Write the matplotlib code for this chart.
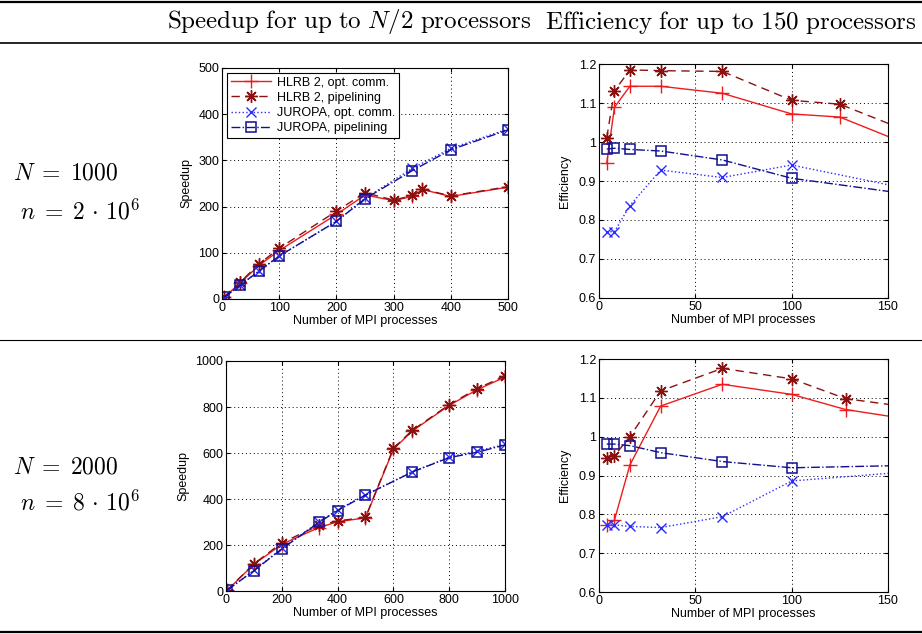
import numpy as np
import matplotlib
matplotlib.use("Agg")
import matplotlib.pyplot as plt
from matplotlib.lines import Line2D

plt.rcParams['font.family'] = ['Liberation Sans', 'DejaVu Sans']
plt.rcParams['mathtext.fontset'] = 'cm'

# ---- N = 1000 : speedup ----
s1_x_hlrb = [4, 32, 64, 100, 200, 250, 300, 333, 350, 400, 500]
s1_hlrb_opt = [4, 35, 72, 105, 183, 225, 213, 222, 237, 222, 242]
s1_hlrb_pipe = [5, 37, 75, 110, 190, 230, 214, 224, 238, 223, 243]
s1_x_jur = [4, 32, 64, 100, 200, 250, 333, 400, 500]
s1_jur_opt = [3, 30, 60, 93, 168, 218, 283, 326, 368]
s1_jur_pipe = [4, 30, 60, 93, 168, 217, 278, 323, 366]

# ---- N = 1000 : efficiency ----
e1_x_hlrb = [4, 8, 16, 32, 64, 100, 125, 200]
e1_hlrb_opt = [0.945, 1.089, 1.143, 1.143, 1.125, 1.072, 1.064, 0.915]
e1_hlrb_pipe = [1.011, 1.131, 1.185, 1.183, 1.181, 1.107, 1.097, 0.95]
e1_x_jur = [4, 8, 16, 32, 64, 100, 200]
e1_jur_opt = [0.77, 0.77, 0.837, 0.928, 0.909, 0.941, 0.84]
e1_jur_pipe = [0.982, 0.984, 0.981, 0.977, 0.954, 0.907, 0.84]

# ---- N = 2000 : speedup ----
s2_x_hlrb = [4, 100, 200, 333, 400, 500, 600, 667, 800, 900, 1000]
s2_hlrb_opt = [3, 116, 203, 276, 301, 318, 616, 695, 807, 875, 930]
s2_hlrb_pipe = [4, 118, 210, 285, 305, 320, 620, 698, 810, 880, 935]
s2_x_jur = [4, 100, 200, 333, 400, 500, 667, 800, 900, 1000]
s2_jur_opt = [3, 90, 185, 300, 353, 418, 518, 582, 609, 637]
s2_jur_pipe = [4, 88, 183, 298, 350, 417, 517, 580, 603, 635]

# ---- N = 2000 : efficiency ----
e2_x_hlrb = [4, 8, 16, 32, 64, 100, 128, 200]
e2_hlrb_opt = [0.773, 0.785, 0.927, 1.079, 1.135, 1.109, 1.070, 1.015]
e2_hlrb_pipe = [0.946, 0.951, 1.0, 1.118, 1.176, 1.149, 1.098, 1.05]
e2_x_jur = [4, 8, 16, 32, 64, 100, 200]
e2_jur_opt = [0.773, 0.773, 0.769, 0.766, 0.794, 0.886, 0.925]
e2_jur_pipe = [0.981, 0.981, 0.977, 0.959, 0.936, 0.920, 0.93]

labels = ['HLRB 2, opt. comm.', 'HLRB 2, pipelining',
          'JUROPA, opt. comm.', 'JUROPA, pipelining']
styles = [dict(color='#ee1c1c', ls='-', marker='+', ms=10, mew=1.0, lw=1.0),
          dict(color='#8b1111', ls=(0, (6, 4)), marker=(8, 2, 0), ms=9,
               mew=1.0, lw=1.0),
          dict(color='#2b2bff', ls=':', marker='x', ms=6.5, mew=1.0, lw=1.0),
          dict(color='#101090', ls='-.', marker='s', ms=7.5, mew=1.1, lw=1.0,
               mfc='none')]


def panel(rect, xh, h1, h2, xj, j1, j2, xlim, ylim, xt, yt, ylab, ytl=None,
          legend=False, lpad=4):
    ax = fig.add_axes(rect)
    ax.plot(xh, h1, label=labels[0], **styles[0])
    ax.plot(xh, h2, label=labels[1], **styles[1])
    ax.plot(xj, j1, label=labels[2], **styles[2])
    ax.plot(xj, j2, label=labels[3], **styles[3])
    ax.set_xlim(xlim)
    ax.set_ylim(ylim)
    ax.set_xticks(xt)
    ax.set_yticks(yt)
    if ytl is not None:
        ax.set_yticklabels(ytl)
    ax.grid(True, ls=(0, (1, 3)), color='black', lw=0.7)
    ax.tick_params(direction='in', top=True, right=True, labelsize=9,
                   length=3, pad=2)
    ax.set_xlabel('Number of MPI processes', fontsize=9, labelpad=1)
    ax.set_ylabel(ylab, fontsize=9, labelpad=lpad)
    for sp in ax.spines.values():
        sp.set_linewidth(0.8)
    if legend:
        leg = ax.legend(loc='upper left', fontsize=9, frameon=True,
                        fancybox=False, edgecolor='black', framealpha=1,
                        handlelength=3.2, borderpad=0.3, labelspacing=0.25,
                        handletextpad=0.5, borderaxespad=0.4)
        leg.get_frame().set_linewidth(0.8)
    return ax


fig = plt.figure(figsize=(9.22, 6.34), dpi=100)

eff_ticks = [0.6, 0.7, 0.8, 0.9, 1.0, 1.1, 1.2]
eff_tl = ['0.6', '0.7', '0.8', '0.9', '1', '1.1', '1.2']

panel([0.2408, 0.5284, 0.3102, 0.3644], s1_x_hlrb, s1_hlrb_opt, s1_hlrb_pipe,
      s1_x_jur, s1_jur_opt, s1_jur_pipe, (0, 500), (0, 500),
      range(0, 501, 100), range(0, 501, 100), 'Speedup', legend=True)
panel([0.6497, 0.530, 0.3134, 0.369], e1_x_hlrb, e1_hlrb_opt, e1_hlrb_pipe,
      e1_x_jur, e1_jur_opt, e1_jur_pipe, (0, 150), (0.6, 1.2),
      [0, 50, 100, 150], eff_ticks, 'Efficiency', eff_tl, lpad=6)
panel([0.2451, 0.0678, 0.3026, 0.3628], s2_x_hlrb, s2_hlrb_opt, s2_hlrb_pipe,
      s2_x_jur, s2_jur_opt, s2_jur_pipe, (0, 1000), (0, 1000),
      range(0, 1001, 200), range(0, 1001, 200), 'Speedup')
panel([0.6497, 0.0662, 0.3134, 0.3675], e2_x_hlrb, e2_hlrb_opt, e2_hlrb_pipe,
      e2_x_jur, e2_jur_opt, e2_jur_pipe, (0, 150), (0.6, 1.2),
      [0, 50, 100, 150], eff_ticks, 'Efficiency', eff_tl, lpad=6)

# table rules
def hrule(ypix, lw):
    y = 1 - ypix / 634
    fig.add_artist(Line2D([0, 1], [y, y], transform=fig.transFigure,
                          color='black', lw=lw))

hrule(2, 1.6)
hrule(43, 1.2)
hrule(340, 0.8)
hrule(632, 1.6)

# header
fig.text(349 / 922, 1 - 22 / 634,
         r'$\mathrm{Speedup\ for\ up\ to\ }N/2\mathrm{\ processors}$',
         ha='center', va='center', fontsize=18)
fig.text(731 / 922, 1 - 22 / 634,
         r'$\mathrm{Efficiency\ for\ up\ to\ 150\ processors}$',
         ha='center', va='center', fontsize=18)

# row labels
fig.text(13 / 922, 1 - 173 / 634, r'$N\;=\;1000$', ha='left', va='center',
         fontsize=17)
fig.text(20 / 922, 1 - 212 / 634, r'$n\;=\;2\,\cdot\,10^6$', ha='left',
         va='center', fontsize=17)
fig.text(13 / 922, 1 - 467 / 634, r'$N\;=\;2000$', ha='left', va='center',
         fontsize=17)
fig.text(20 / 922, 1 - 503 / 634, r'$n\;=\;8\,\cdot\,10^6$', ha='left',
         va='center', fontsize=17)

fig.savefig('out.png', dpi=100)
